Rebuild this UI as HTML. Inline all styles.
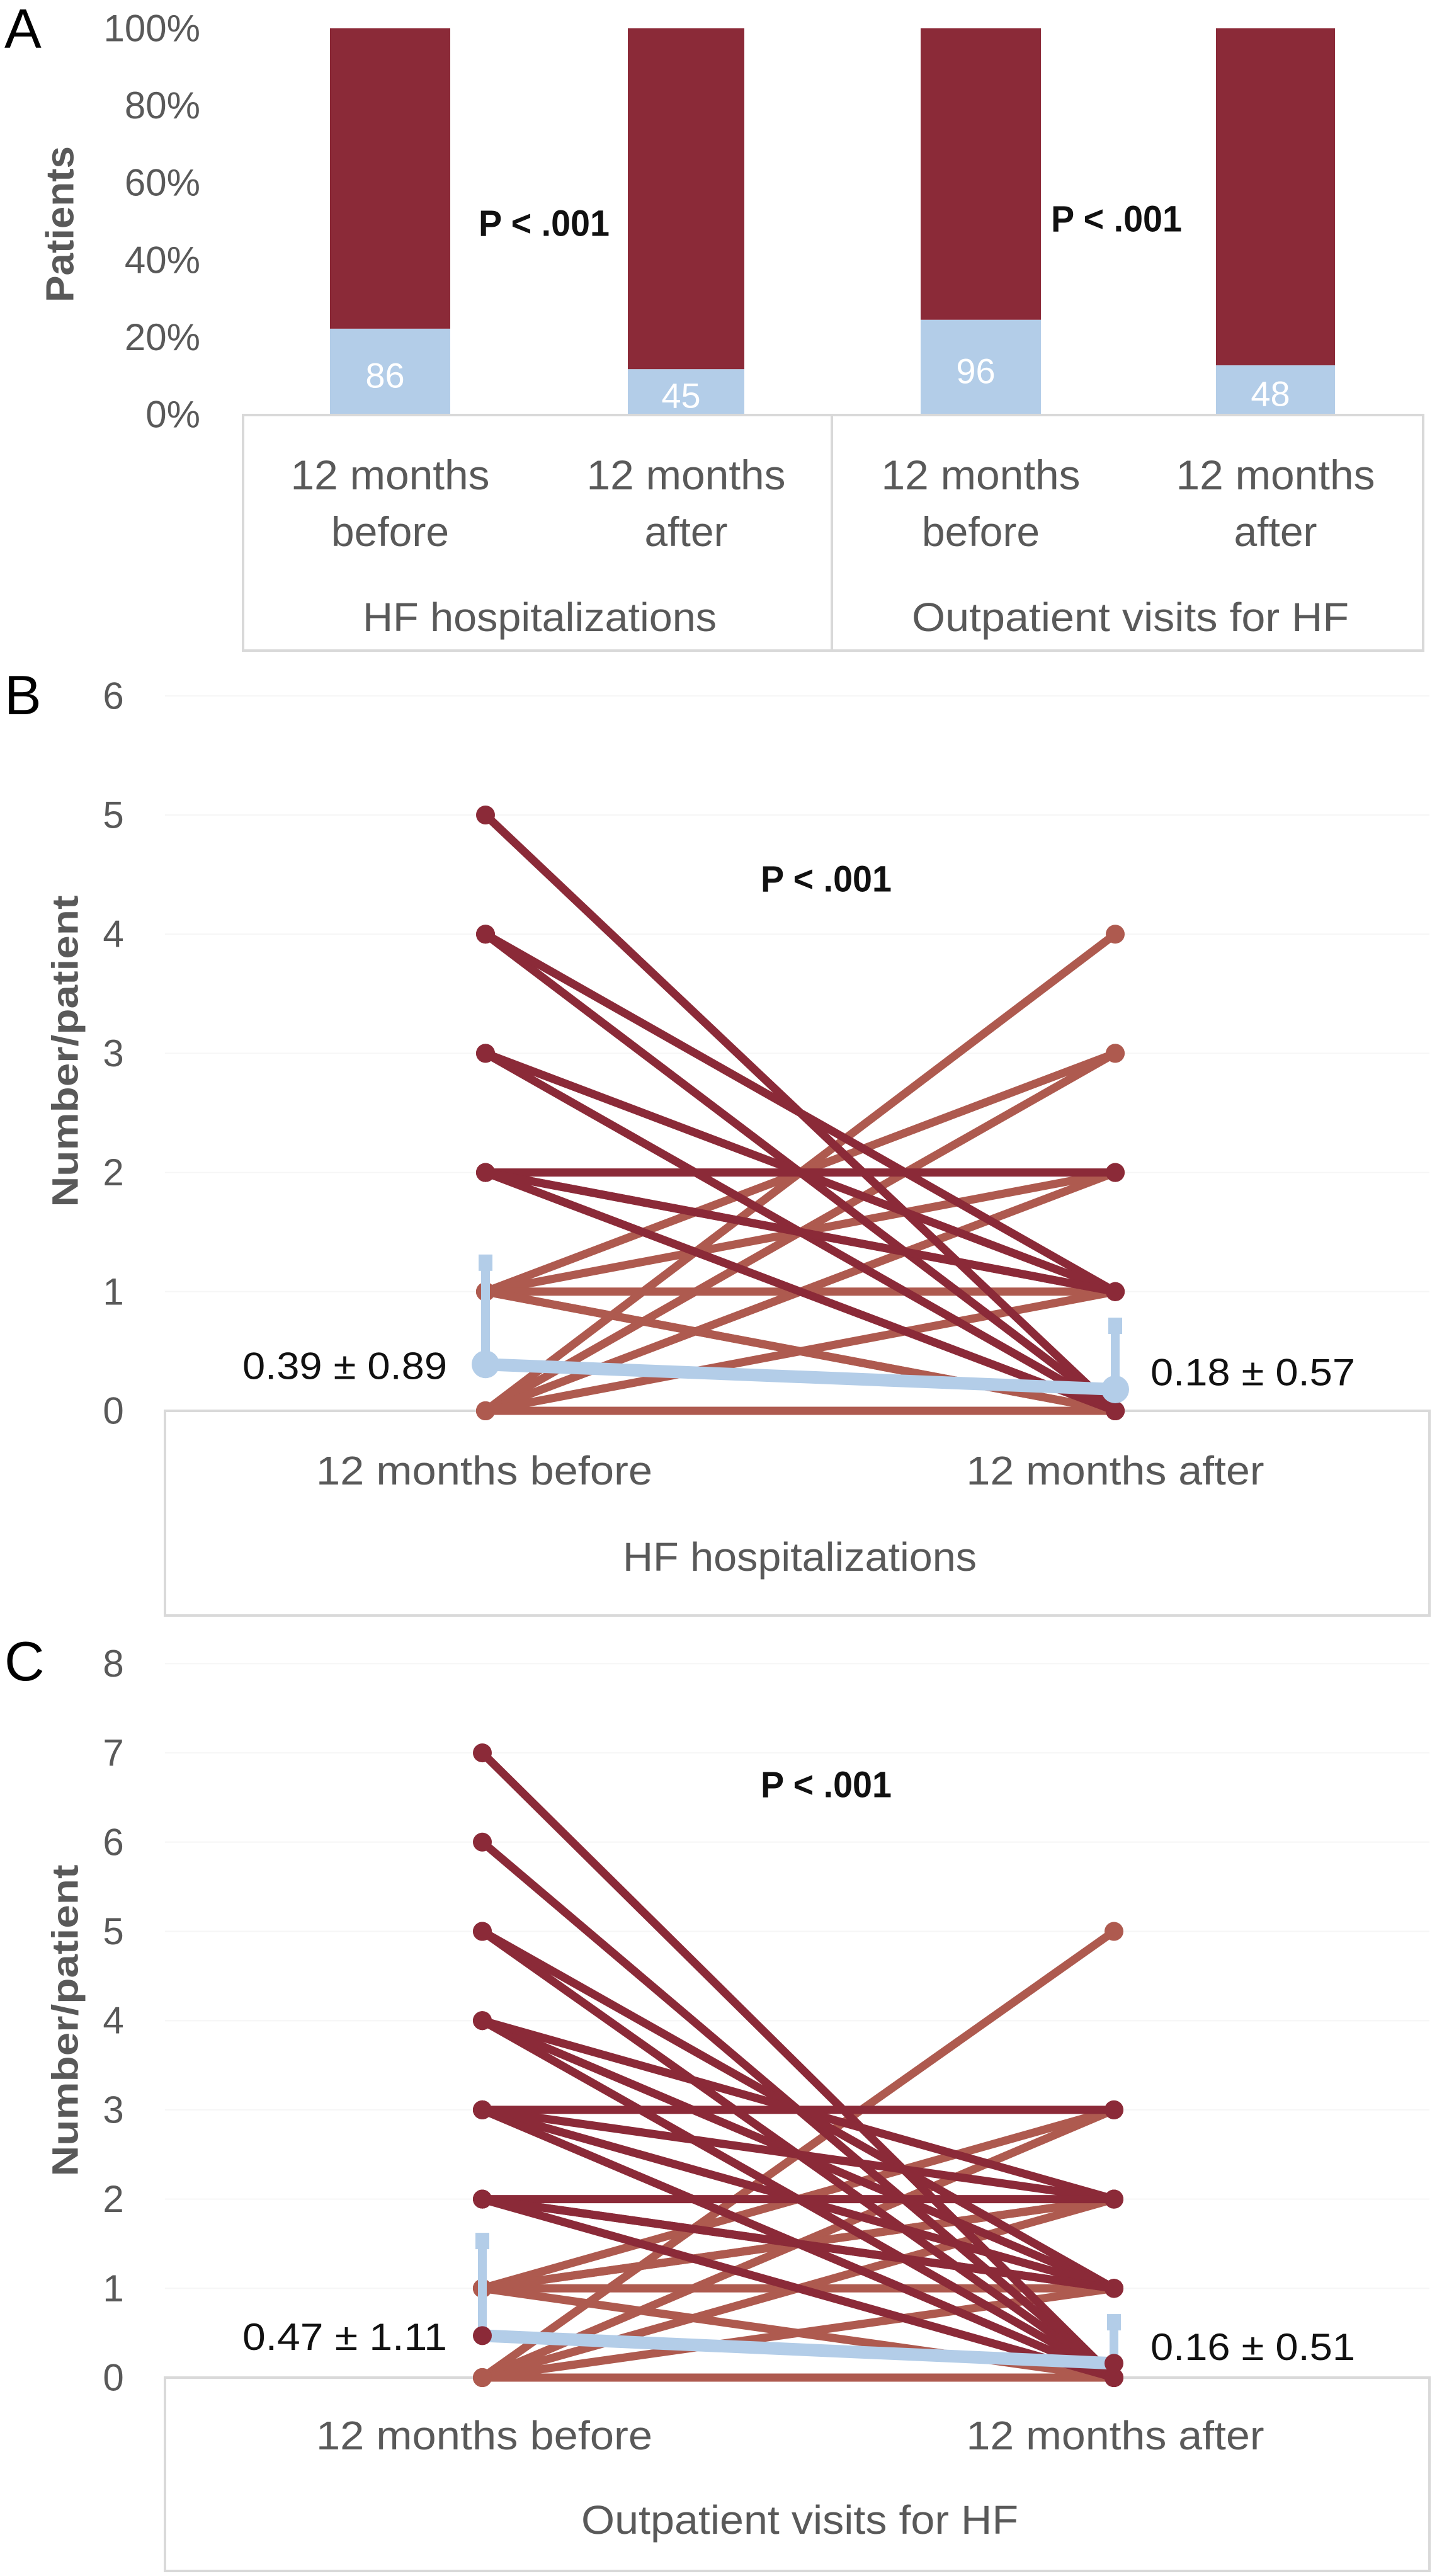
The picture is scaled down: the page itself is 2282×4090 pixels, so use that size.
<!DOCTYPE html>
<html><head><meta charset="utf-8"><style>
html,body{margin:0;padding:0;background:#fff}
svg{display:block}
text{font-family:"Liberation Sans Narrow","Liberation Sans",sans-serif}
</style></head><body>
<svg id="fig" width="2282" height="4090" viewBox="0 0 2282 4090" xmlns="http://www.w3.org/2000/svg">
<rect width="2282" height="4090" fill="#fff"/>
<g id="panelA"></g>
<g id="panelB"></g>
<g id="panelC"></g>
</svg>
<script>
// ---- Panel A data ----
const aCategories = ["12 months before","12 months after","12 months before","12 months after"];
const aBlueShare = [22.2, 11.7, 24.5, 12.7];
const aBlueLabels = ["86","45","96","48"];
const aTicks = [0,20,40,60,80,100];
// ---- Panel B data ----
const bTicks = [0,1,2,3,4,5,6];
const bDecBefore = [5,4,4,3,3,2,2,2,2];
const bDecAfter  = [0,0,1,0,1,2,1,0,1];
const bIncBefore = [0,0,1,0,1,1,1,0,0,1];
const bIncAfter  = [4,3,3,2,2,1,0,1,0,0];
const bMeans = [0.39, 0.18];
const bSD = [0.89, 0.57];
// ---- Panel C data ----
const cTicks = [0,1,2,3,4,5,6,7,8];
const cDecBefore = [7,6,5,5,4,4,4,3,3,3,3,2,2,2,2];
const cDecAfter  = [0,0,0,1,0,1,2,3,1,0,2,2,1,0,1];
const cIncBefore = [0,0,1,0,1,1,0,1,0,1];
const cIncAfter  = [5,3,3,2,2,1,1,0,0,2];
const cMeans = [0.47, 0.16];
const cSD = [1.11, 0.51];

const NS="http://www.w3.org/2000/svg";
const DARK="#8B2A38", LIGHT="#AE5A4F", BLUE="#B3CDE8", GRAY="#595959";
function mk(parent,tag,attrs,txt){const e=document.createElementNS(NS,tag);for(const k in attrs)e.setAttribute(k,attrs[k]);if(txt!==undefined)e.textContent=txt;parent.appendChild(e);return e;}

// ---------- Panel A ----------
const A=document.getElementById('panelA');
const ay=v=>658-(v/100)*(658-45);
const barX=[524,997,1462,1931], barW=[191,185,191,189];
let t=mk(A,'text',{x:7,y:76,'font-size':88,fill:'#000'},'A');


aTicks.forEach(v=>{const e=mk(A,'text',{x:318,y:ay(v),'font-size':60,fill:GRAY,'text-anchor':'end','dominant-baseline':'central'},v+'%');

});
t=mk(A,'text',{x:0,y:0,'font-size':62,'font-weight':'bold',fill:GRAY,'text-anchor':'middle','dominant-baseline':'central',transform:'translate(96,356) rotate(-90)',textLength:248,lengthAdjust:'spacingAndGlyphs'},'Patients');


aBlueShare.forEach((s,i)=>{
 const r1=mk(A,'rect',{x:barX[i],y:ay(100),width:barW[i],height:ay(s)-ay(100),fill:DARK});
 
 
 const r2=mk(A,'rect',{x:barX[i],y:ay(s),width:barW[i],height:ay(0)-ay(s),fill:BLUE});
 
 
 const l=mk(A,'text',{x:barX[i]+barW[i]/2-8,y:(ay(s)+ay(0))/2+6,'font-size':56,fill:'#fff','text-anchor':'middle','dominant-baseline':'central'},aBlueLabels[i]);
 
 
});
t=mk(A,'rect',{x:386,y:659,width:1874,height:374,fill:'none',stroke:'#d9d9d9','stroke-width':4});


t=mk(A,'line',{x1:1321,y1:659,x2:1321,y2:1033,stroke:'#d9d9d9','stroke-width':4});


aCategories.forEach((c,i)=>{
 const cx=barX[i]+barW[i]/2;const parts=c.split(' ');
 const e1=mk(A,'text',{x:cx,y:754,'font-size':66,fill:GRAY,'text-anchor':'middle','dominant-baseline':'central',textLength:316,lengthAdjust:'spacingAndGlyphs'},'12 months');
 
 
 const e2=mk(A,'text',{x:cx,y:844,'font-size':66,fill:GRAY,'text-anchor':'middle','dominant-baseline':'central'},parts[2]);
 
 
});
t=mk(A,'text',{x:857,y:980,'font-size':64,fill:GRAY,'text-anchor':'middle','dominant-baseline':'central',textLength:562,lengthAdjust:'spacingAndGlyphs'},'HF hospitalizations');


t=mk(A,'text',{x:1795,y:980,'font-size':64,fill:GRAY,'text-anchor':'middle','dominant-baseline':'central',textLength:694,lengthAdjust:'spacingAndGlyphs'},'Outpatient visits for HF');


t=mk(A,'text',{x:864,y:355,'font-size':58,'font-weight':'bold',fill:'#111','text-anchor':'middle','dominant-baseline':'central',textLength:208,lengthAdjust:'spacingAndGlyphs'},'P < .001');


t=mk(A,'text',{x:1773,y:348,'font-size':58,'font-weight':'bold',fill:'#111','text-anchor':'middle','dominant-baseline':'central',textLength:208,lengthAdjust:'spacingAndGlyphs'},'P < .001');



// ---------- Panels B / C ----------
function slope(G,cfg){
 const yv=v=>cfg.y0-v*cfg.unit;
 const xb=cfg.xb, xa=cfg.xa;
 let e=mk(G,'text',{x:7,y:cfg.letterY,'font-size':88,fill:'#000'},cfg.letter);
 
 
 cfg.ticks.forEach(v=>{const g=mk(G,'line',{x1:262,x2:2270,y1:yv(v),y2:yv(v),stroke:'#f6f6f6','stroke-width':2});
  
  
  const l=mk(G,'text',{x:180,y:yv(v),'font-size':60,fill:GRAY,'text-anchor':'middle','dominant-baseline':'central'},String(v));
  
  });
 e=mk(G,'text',{x:0,y:0,'font-size':58,'font-weight':'bold',fill:GRAY,'text-anchor':'middle','dominant-baseline':'central',transform:`translate(104,${cfg.titleY}) rotate(-90)`,textLength:495,lengthAdjust:'spacingAndGlyphs'},'Number/patient');
 
 
 e=mk(G,'rect',{x:262,y:cfg.y0,width:2008,height:cfg.boxH,fill:'none',stroke:'#d9d9d9','stroke-width':4});
 
 
 function lines(bef,aft,col,name){bef.forEach((b,i)=>{
  const ln=mk(G,'line',{x1:xb,y1:yv(b),x2:xa,y2:yv(aft[i]),stroke:col,'stroke-width':13,'stroke-linecap':'round'});
  
  
  const c1=mk(G,'circle',{cx:xb,cy:yv(b),r:15,fill:col});
  
  
  const c2=mk(G,'circle',{cx:xa,cy:yv(aft[i]),r:15,fill:col});
  
  
 });}
 lines(cfg.incB,cfg.incA,LIGHT,'patient-line-increase');
 lines(cfg.decB,cfg.decA,DARK,'patient-line-decrease');
 [[xb,0],[xa,1]].forEach(([x,i])=>{
  const eb=mk(G,'line',{x1:x,y1:yv(cfg.means[i]),x2:x,y2:yv(cfg.means[i]+cfg.sd[i]),stroke:BLUE,'stroke-width':14});
  
  
  const cap=mk(G,'rect',{x:x-11,y:yv(cfg.means[i]+cfg.sd[i])-6,width:22,height:26,fill:BLUE});
  
  
 });
 e=mk(G,'line',{x1:xb,y1:yv(cfg.means[0]),x2:xa,y2:yv(cfg.means[1]),stroke:BLUE,'stroke-width':20,'stroke-linecap':'round'});
 
 
 [[xb,0],[xa,1]].forEach(([x,i])=>{const c=mk(G,'circle',{cx:x,cy:yv(cfg.means[i]),r:cfg.meanR,fill:cfg.meanFill});
  
  });
 e=mk(G,'text',{x:710,y:yv(cfg.means[0])-cfg.lblOff,'font-size':60,fill:'#111','text-anchor':'end','dominant-baseline':'central',textLength:325,lengthAdjust:'spacingAndGlyphs'},cfg.means[0].toFixed(2)+' \u00b1 '+cfg.sd[0].toFixed(2));
 
 
 e=mk(G,'text',{x:1827,y:yv(cfg.means[1])-cfg.lblOff2,'font-size':60,fill:'#111','text-anchor':'start','dominant-baseline':'central',textLength:325,lengthAdjust:'spacingAndGlyphs'},cfg.means[1].toFixed(2)+' \u00b1 '+cfg.sd[1].toFixed(2));
 
 
 e=mk(G,'text',{x:769,y:cfg.catY,'font-size':64,fill:GRAY,'text-anchor':'middle','dominant-baseline':'central',textLength:534,lengthAdjust:'spacingAndGlyphs'},'12 months before');
 
 
 e=mk(G,'text',{x:1771,y:cfg.catY,'font-size':64,fill:GRAY,'text-anchor':'middle','dominant-baseline':'central',textLength:473,lengthAdjust:'spacingAndGlyphs'},'12 months after');
 
 
 e=mk(G,'text',{x:1270,y:cfg.grpY,'font-size':64,fill:GRAY,'text-anchor':'middle','dominant-baseline':'central',textLength:cfg.grpW,lengthAdjust:'spacingAndGlyphs'},cfg.group);
 
 
 e=mk(G,'text',{x:1312,y:cfg.pY,'font-size':58,'font-weight':'bold',fill:'#111','text-anchor':'middle','dominant-baseline':'central',textLength:208,lengthAdjust:'spacingAndGlyphs'},'P < .001');
 
 
}
slope(document.getElementById('panelB'),{letter:'B',letterY:1134,y0:2240,unit:189.2,xb:771,xa:1771,ticks:bTicks,titleY:1669,boxH:325,
 decB:bDecBefore,decA:bDecAfter,incB:bIncBefore,incA:bIncAfter,means:bMeans,sd:bSD,meanR:22,meanFill:BLUE,lblOff:-3,lblOff2:27,
 catY:2335,grpY:2472,grpW:562,group:'HF hospitalizations',pY:1396});
slope(document.getElementById('panelC'),{letter:'C',letterY:2668,y0:3775,unit:141.7,xb:766,xa:1769,ticks:cTicks,titleY:3208,boxH:307,
 decB:cDecBefore,decA:cDecAfter,incB:cIncBefore,incA:cIncAfter,means:cMeans,sd:cSD,meanR:15,meanFill:DARK,lblOff:-2,lblOff2:26,
 catY:3867,grpY:4001,grpW:694,group:'Outpatient visits for HF',pY:2834});
</script>
</body></html>
